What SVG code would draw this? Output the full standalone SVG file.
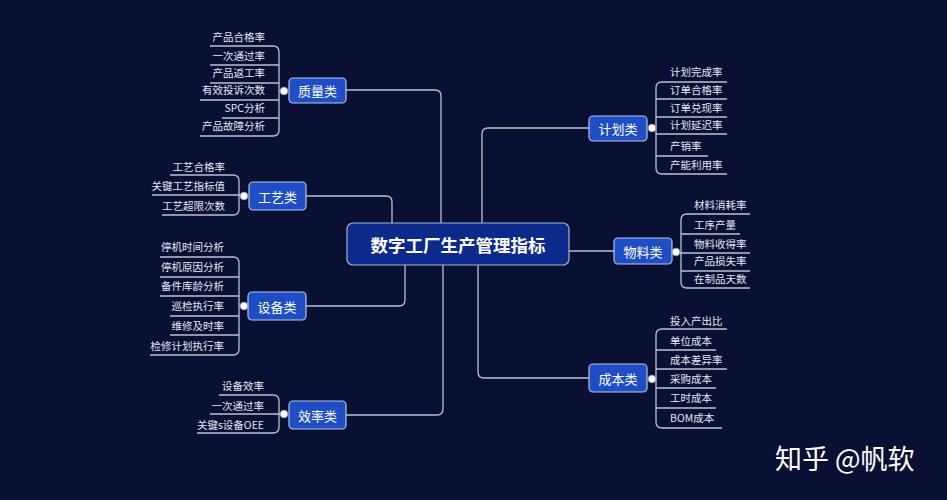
<svg xmlns="http://www.w3.org/2000/svg" width="947" height="500" viewBox="0 0 947 500">
<style>
.bg{fill:#0a1034}
.ln{fill:none;stroke:#b9c0d2;stroke-width:1.3}
.cat rect{fill:#1f4ec4;stroke:#b8c4e4;stroke-width:1.2}
.cat text{fill:#ffffff;font-family:"Noto Sans CJK SC","Noto Sans",sans-serif;font-size:13px;text-anchor:middle;dominant-baseline:central}
.leaf{fill:#e4e8f2;font-family:"Noto Sans CJK SC","Noto Sans",sans-serif;font-size:10.5px;dominant-baseline:central}
.l{text-anchor:end}
.dot{fill:#ffffff;stroke:#9aa4be;stroke-width:1}
</style>
<rect class="bg" x="0" y="0" width="947" height="500"/>

<g id="connectors">
<path class="ln" d="M346,90 H435 Q441,90 441,96 V223"/>
<path class="ln" d="M306,196 H386 Q392,196 392,202 V223"/>
<path class="ln" d="M306,306 H399 Q405,306 405,300 V265"/>
<path class="ln" d="M346,415 H437 Q443,415 443,409 V265"/>
<path class="ln" d="M589,128 H488 Q482,128 482,134 V223"/>
<path class="ln" d="M569,251 H614"/>
<path class="ln" d="M589,378 H484 Q478,378 478,372 V265"/>
<path class="ln" d="M210,46 H273 Q279,46 279,52 V130 Q279,136 273,136 H200"/>
<path class="ln" d="M210,65 H279 M210,83 H279 M200,100 H279 M222,118 H279 M279,91 H284"/>
<path class="ln" d="M170,175 H233 Q239,175 239,181 V209 Q239,215 233,215 H162"/>
<path class="ln" d="M152,195 H244"/>
<path class="ln" d="M160,257 H233 Q239,257 239,263 V349 Q239,355 233,355 H150"/>
<path class="ln" d="M160,277 H239 M160,296 H239 M170,316 H239 M170,335 H239 M239,306 H244"/>
<path class="ln" d="M219,395 H273 Q279,395 279,401 V427 Q279,433 273,433 H197"/>
<path class="ln" d="M210,414 H284"/>
<path class="ln" d="M727,82 H662 Q656,82 656,88 V168 Q656,174 662,174 H727"/>
<path class="ln" d="M656,99 H727 M656,117 H727 M656,134 H727 M656,156 H708 M652,128 H656"/>
<path class="ln" d="M750,214 H687 Q681,214 681,220 V282 Q681,288 687,288 H750"/>
<path class="ln" d="M681,234 H740 M676,253 H750 M681,271 H750"/>
<path class="ln" d="M727,329 H662 Q656,329 656,335 V422 Q656,428 662,428 H722"/>
<path class="ln" d="M656,350 H716 M656,369 H727 M656,388 H716 M656,408 H716 M652,379 H656"/>
</g>

<g id="center">
<rect x="347" y="223" width="222" height="42" rx="6" fill="#0b2a8a" stroke="#a9b3cf" stroke-width="1.2"/>
<text x="458" y="244" fill="#ffffff" font-family="Noto Sans CJK SC,Noto Sans,sans-serif" font-size="17.5px" font-weight="bold" text-anchor="middle" dominant-baseline="central">数字工厂生产管理指标</text>
</g>

<g id="node-zhiliang" class="cat"><rect x="289" y="78" width="57" height="25" rx="4"/><text x="317.5" y="90.5">质量类</text></g>
<g id="node-gongyi" class="cat"><rect x="249" y="182" width="57" height="28" rx="4"/><text x="277.5" y="196">工艺类</text></g>
<g id="node-shebei" class="cat"><rect x="248" y="292" width="58" height="28" rx="4"/><text x="277" y="306">设备类</text></g>
<g id="node-xiaolv" class="cat"><rect x="289" y="401" width="57" height="28" rx="4"/><text x="317.5" y="415">效率类</text></g>
<g id="node-jihua" class="cat"><rect x="589" y="116" width="58" height="25" rx="4"/><text x="618" y="128.5">计划类</text></g>
<g id="node-wuliao" class="cat"><rect x="614" y="238" width="58" height="26" rx="4"/><text x="643" y="251">物料类</text></g>
<g id="node-chengben" class="cat"><rect x="589" y="364" width="58" height="28" rx="4"/><text x="618" y="378">成本类</text></g>

<g id="dots">
<circle class="dot" cx="284" cy="91" r="3.8"/>
<circle class="dot" cx="244" cy="196" r="3.8"/>
<circle class="dot" cx="244" cy="306" r="3.8"/>
<circle class="dot" cx="284" cy="414" r="3.8"/>
<circle class="dot" cx="652" cy="128" r="3.8"/>
<circle class="dot" cx="676" cy="252" r="3.8"/>
<circle class="dot" cx="652" cy="379" r="3.8"/>
</g>

<g id="leaves-zhiliang" transform="translate(0,-1.5)">
<text class="leaf l" x="265" y="38">产品合格率</text>
<text class="leaf l" x="265" y="57">一次通过率</text>
<text class="leaf l" x="265" y="74">产品返工率</text>
<text class="leaf l" x="265" y="91">有效投诉次数</text>
<text class="leaf l" x="265" y="109">SPC分析</text>
<text class="leaf l" x="265" y="127">产品故障分析</text>
</g>
<g id="leaves-gongyi" transform="translate(0,-1.5)">
<text class="leaf l" x="225" y="168">工艺合格率</text>
<text class="leaf l" x="225" y="187">关键工艺指标值</text>
<text class="leaf l" x="225" y="207">工艺超限次数</text>
</g>
<g id="leaves-shebei" transform="translate(0,-1.5)">
<text class="leaf l" x="224" y="248">停机时间分析</text>
<text class="leaf l" x="224" y="268">停机原因分析</text>
<text class="leaf l" x="224" y="287">备件库龄分析</text>
<text class="leaf l" x="224" y="307">巡检执行率</text>
<text class="leaf l" x="224" y="327">维修及时率</text>
<text class="leaf l" x="224" y="347">检修计划执行率</text>
</g>
<g id="leaves-xiaolv" transform="translate(0,-1.5)">
<text class="leaf l" x="264" y="387">设备效率</text>
<text class="leaf l" x="264" y="407">一次通过率</text>
<text class="leaf l" x="264" y="426">关键s设备OEE</text>
</g>
<g id="leaves-jihua" transform="translate(0,-1.5)">
<text class="leaf" x="670" y="73">计划完成率</text>
<text class="leaf" x="670" y="91">订单合格率</text>
<text class="leaf" x="670" y="109">订单兑现率</text>
<text class="leaf" x="670" y="126">计划延迟率</text>
<text class="leaf" x="670" y="147">产销率</text>
<text class="leaf" x="670" y="166">产能利用率</text>
</g>
<g id="leaves-wuliao" transform="translate(0,-1.5)">
<text class="leaf" x="694" y="206">材料消耗率</text>
<text class="leaf" x="694" y="226">工序产量</text>
<text class="leaf" x="694" y="245">物料收得率</text>
<text class="leaf" x="694" y="262">产品损失率</text>
<text class="leaf" x="694" y="280">在制品天数</text>
</g>
<g id="leaves-chengben" transform="translate(0,-1.5)">
<text class="leaf" x="670" y="322">投入产出比</text>
<text class="leaf" x="670" y="342">单位成本</text>
<text class="leaf" x="670" y="361">成本差异率</text>
<text class="leaf" x="670" y="380">采购成本</text>
<text class="leaf" x="670" y="399">工时成本</text>
<text class="leaf" x="670" y="419">BOM成本</text>
</g>

<text x="775" y="469" fill="#ffffff" font-family="Noto Sans CJK SC,Noto Sans,sans-serif" font-size="27px">知乎 @帆软</text>
</svg>
